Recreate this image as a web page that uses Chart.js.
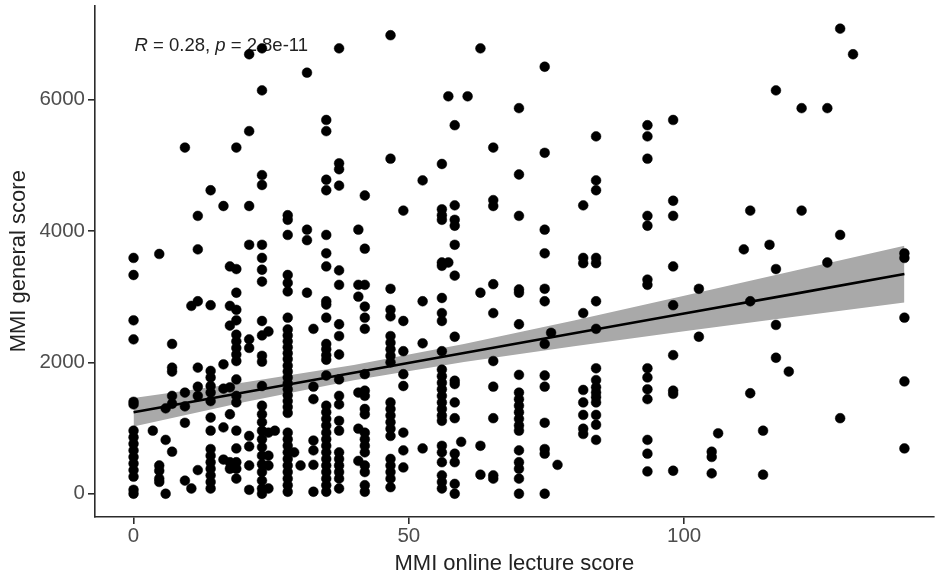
<!DOCTYPE html>
<html>
<head>
<meta charset="utf-8">
<script src="https://cdn.jsdelivr.net/npm/chart.js@4.4.1/dist/chart.umd.min.js"></script>
<style>
  html, body { margin: 0; padding: 0; background: #fff; overflow: hidden; }
</style>
</head>
<body>
<canvas id="chart" width="939" height="577"></canvas>
<script>
// x positions of the score columns (MMI online lecture score)
const lectureScores = [
  0, 3.5, 4.67, 5.83, 7, 9.33, 10.5, 11.67, 14, 16.33, 17.5, 18.67, 21, 23.33, 24.5, 25.67,
  28, 29.17, 30.33, 31.5, 32.67, 35, 37.33, 40.83, 42, 46.67, 49, 52.5, 56, 57.17, 58.33,
  59.5, 60.67, 63, 65.33, 70, 74.67, 75.83, 77, 81.67, 84, 93.33, 98, 102.67, 105, 106.17,
  110.83, 112, 114.33, 115.5, 116.67, 119, 121.33, 126, 128.33, 130.67, 140
];

// MMI general score of each student, one list per column above
const generalScores = [
  [3590, 3330, 2640, 2350, 1400, 1360, 960, 860, 760, 660, 560, 460, 360, 260, 60, 0],
  [960],
  [3650, 430, 350, 230, 180],
  [1300, 820, 0],
  [2280, 1920, 1860, 1490, 1370, 640],
  [5270, 1540, 1330, 1080, 200],
  [2860, 80],
  [4230, 3720, 2930, 1920, 1630, 1490, 360],
  [4620, 2870, 1870, 1770, 1640, 1540, 1410, 1160, 960, 680, 580, 480, 380, 280, 180, 80],
  [4380, 1970, 1600, 1010, 520],
  [3460, 2860, 2560, 1620, 1210, 480, 380],
  [5270, 3420, 3060, 2800, 2640, 2420, 2320, 2220, 2120, 2020, 1740, 1490, 1390, 960, 690, 480, 380, 230],
  [6690, 5520, 4380, 3790, 2350, 2220, 880, 720, 430, 60],
  [6780, 6140, 4850, 4700, 3790, 3590, 3410, 3230, 2630, 2410, 2100, 2010, 1640, 1340, 1210, 1090, 960, 830, 710, 580, 450, 330, 200, 80, 0],
  [2470, 930, 580, 430, 80],
  [960],
  [4240, 4170, 3940, 3330, 3210, 3080, 2680, 2500, 2410, 2320, 2230, 2140, 2050, 1950, 1860, 1770, 1680, 1590, 1500, 1410, 1320, 1230, 930, 830, 730, 630, 530, 430, 330, 230, 130, 30],
  [630],
  [430],
  [6410, 4020, 3860, 3060],
  [2510, 1630, 1440, 810, 660, 440, 30],
  [5690, 5520, 4780, 4620, 3940, 3660, 3460, 2930, 2880, 2680, 2280, 2200, 2110, 2040, 1800, 1340, 1240, 1140, 1040, 930, 830, 730, 630, 530, 430, 330, 230, 130, 30],
  [6780, 5030, 4940, 4690, 3400, 3180, 2580, 2400, 2120, 1740, 1490, 1360, 1110, 960, 630, 530, 430, 330, 230, 80],
  [4020, 3180, 3000, 1540, 990, 500],
  [4540, 3730, 3180, 2850, 2680, 2510, 1820, 1570, 1490, 1290, 1210, 930, 830, 730, 630, 430, 330, 130, 30],
  [6980, 5100, 3120, 2800, 2700, 2400, 2300, 2200, 2100, 2000, 1390, 1290, 1190, 1090, 990, 880, 530, 430, 330, 230, 100],
  [4310, 2630, 2170, 1820, 1640, 930, 660, 400],
  [4770, 2930, 2290, 690],
  [5020, 4330, 4240, 4170, 3520, 3470, 2980, 2750, 2630, 2170, 1890, 1790, 1690, 1590, 1490, 1390, 1290, 1190, 1110, 730, 630, 480, 280, 180, 80],
  [6050, 3520],
  [5610, 4390, 4170, 4080, 3790, 3320, 2390, 1720, 1670, 1390, 1150, 610, 480, 150, 0],
  [790],
  [6050],
  [6780, 3060, 730, 290],
  [5270, 4470, 4380, 3190, 2750, 2020, 1630, 1150, 280, 230],
  [5870, 4860, 4230, 3110, 3060, 2580, 1810, 1540, 1440, 1340, 1240, 1140, 1040, 960, 660, 480, 380, 230, 0],
  [6500, 5190, 4020, 3660, 3120, 2930, 2280, 1800, 1630, 1080, 680, 610, 0],
  [2450],
  [440],
  [4390, 3590, 3510, 2750, 1580, 1390, 1200, 990, 910],
  [5440, 4770, 4620, 3590, 3510, 2930, 2510, 1910, 1730, 1620, 1540, 1470, 1390, 1200, 1050, 820],
  [5610, 5440, 5100, 4230, 4080, 3260, 3180, 1910, 1770, 1590, 1440, 820, 610, 340],
  [5690, 4460, 4230, 3460, 2870, 2110, 1570, 1520, 350],
  [3120, 2390],
  [640, 560, 310],
  [920],
  [3720],
  [4310, 2930, 1530],
  [960, 290],
  [3790],
  [6140, 3420, 2570, 2070],
  [1860],
  [5870, 4310],
  [5870, 3520],
  [7080, 3940, 1150],
  [6690],
  [3660, 3590, 2680, 1710, 690]
];

// linear fit and its confidence band
const fitX = [0, 20, 40, 60, 80, 100, 120, 140];
const fitLine = [1242, 1542, 1842, 2143, 2443, 2743, 3043, 3344];
const fitUpper = [1459, 1693, 1958, 2280, 2639, 3013, 3393, 3776];
const fitLower = [1025, 1391, 1726, 2006, 2247, 2473, 2693, 2912];

const xTicks = [0, 50, 100];
const yTicks = [0, 2000, 4000, 6000];
const corText = [["R", true], [" = 0.28, ", false], ["p", true], [" = 2.8e-11", false]];

const FONT = "'Liberation Sans', Arial, Helvetica, sans-serif";
Chart.defaults.font.family = FONT;

const points = lectureScores.flatMap((x, i) => generalScores[i].map(y => ({ x, y })));
const toXY = vals => fitX.map((x, i) => ({ x, y: vals[i] }));

// R / p label, drawn under the points like in ggpubr
const corLabel = {
  id: "corLabel",
  beforeDatasetsDraw(chart) {
    const { ctx, scales: { x }, chartArea } = chart;
    ctx.save();
    ctx.fillStyle = "#222";
    ctx.textBaseline = "alphabetic";
    let px = x.getPixelForValue(0) + 1;
    const py = chartArea.top + 46;
    corText.forEach(([txt, italic]) => {
      ctx.font = (italic ? "italic " : "") + "18.5px " + FONT;
      ctx.fillText(txt, px, py);
      px += ctx.measureText(txt).width;
    });
    ctx.restore();
  }
};

const axisStyle = {
  grid: { display: true, drawOnChartArea: false, drawTicks: true, tickLength: 7, color: "#2b2b2b", lineWidth: 1.6 },
  border: { display: true, color: "#2b2b2b", width: 1.6 }
};

new Chart(document.getElementById("chart").getContext("2d"), {
  type: "scatter",
  data: {
    datasets: [
      { type: "line", data: toXY(fitUpper), borderWidth: 0, pointRadius: 0, fill: "+1", backgroundColor: "#A9A9A9", order: 3 },
      { type: "line", data: toXY(fitLower), borderWidth: 0, pointRadius: 0, fill: false, order: 3 },
      { type: "line", data: toXY(fitLine), borderColor: "#000", borderWidth: 2.6, pointRadius: 0, fill: false, order: 2 },
      { data: points, backgroundColor: "#000", borderColor: "#000", borderWidth: 0.5, pointRadius: 4.9, order: 1 }
    ]
  },
  options: {
    responsive: false,
    animation: false,
    layout: { padding: { top: 5, right: 0, bottom: 0, left: 0 } },
    plugins: { legend: { display: false }, tooltip: { enabled: false } },
    scales: {
      x: {
        type: "linear", min: -7, max: 145.3,
        ...axisStyle,
        afterBuildTicks: s => { s.ticks = xTicks.map(v => ({ value: v })); },
        afterFit: s => { s.height = 60; s.paddingLeft = 0; s.paddingRight = 0; },
        ticks: { font: { size: 20.5 }, color: "#4D4D4D", padding: 0, callback: v => String(v) },
        title: { display: true, text: "MMI online lecture score", color: "#222", font: { size: 22 }, padding: { top: 0, bottom: 0 } }
      },
      y: {
        type: "linear", min: -354, max: 7434,
        ...axisStyle,
        afterBuildTicks: s => { s.ticks = yTicks.map(v => ({ value: v })); },
        afterFit: s => { s.width = 95; s.paddingTop = 0; s.paddingBottom = 0; },
        ticks: { font: { size: 20.5 }, color: "#4D4D4D", padding: 3, callback: v => String(v) },
        title: { display: true, text: "MMI general score", color: "#222", font: { size: 22 }, padding: { top: 6, bottom: 0 } }
      }
    }
  },
  plugins: [corLabel]
});
</script>
</body>
</html>
